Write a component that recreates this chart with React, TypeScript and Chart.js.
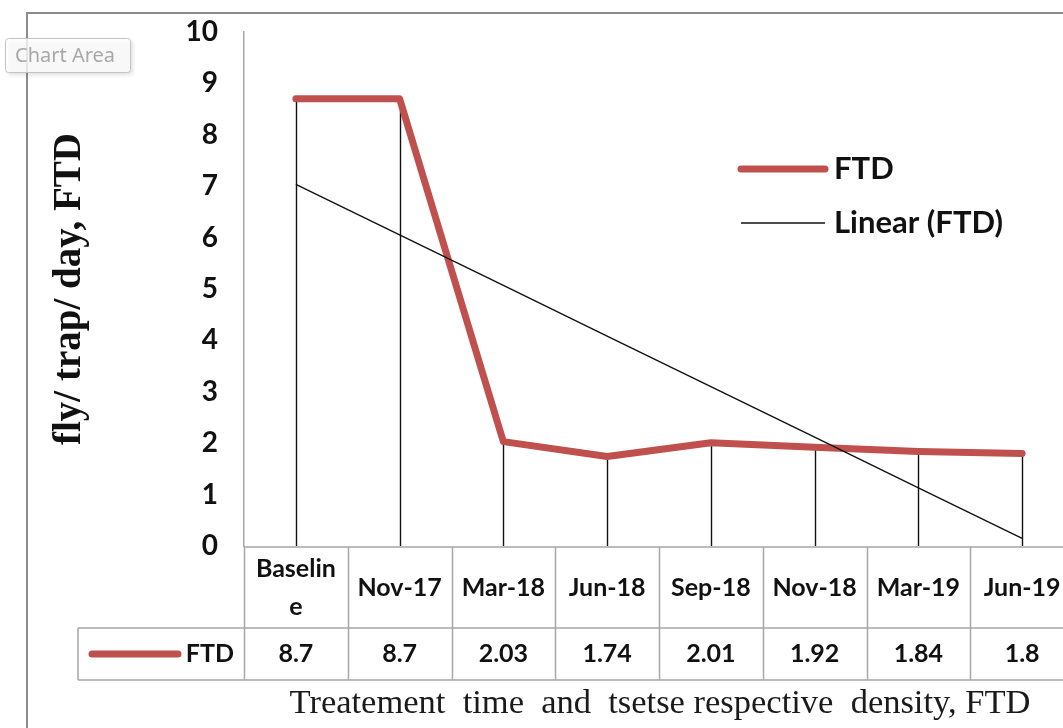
import React, { useEffect, useRef } from "react";
import { Chart, registerables } from "chart.js";

Chart.register(...registerables);

// ---- data ----
const categories: (string | string[])[] = [["Baselin", "e"], "Nov-17", "Mar-18", "Jun-18", "Sep-18", "Nov-18", "Mar-19", "Jun-19"];
const ftdValues = [8.7, 8.7, 2.03, 1.74, 2.01, 1.92, 1.84, 1.8];
const valueLabels = ["8.7", "8.7", "2.03", "1.74", "2.01", "1.92", "1.84", "1.8"];
const yMin = 0;
const yMax = 10;
const yStep = 1;
const seriesName = "FTD";
const trendName = "Linear (FTD)";
const yTitle = "fly/ trap/ day, FTD";
const xTitle = "Treatement  time  and  tsetse respective  density, FTD";

// Excel-style linear trendline (least squares on category index)
function linearTrend(vals: number[]): number[] {
  const n = vals.length;
  const xs = vals.map((_, i) => i + 1);
  const mx = xs.reduce((a, b) => a + b, 0) / n;
  const my = vals.reduce((a, b) => a + b, 0) / n;
  let sxy = 0, sxx = 0;
  for (let i = 0; i < n; i++) {
    sxy += (xs[i] - mx) * (vals[i] - my);
    sxx += (xs[i] - mx) * (xs[i] - mx);
  }
  const slope = sxy / sxx;
  return xs.map((x) => my + slope * (x - mx));
}
const trendValues = linearTrend(ftdValues);

const RED = "#C0504D";
const GRID = "#a6a6a6";
const SANS = "Lato, 'Noto Sans', sans-serif";
const SERIF = "'Liberation Serif', 'Times New Roman', serif";

const decorPlugin = {
  id: "decor",
  beforeDraw(chart: any) {
    const { ctx } = chart;
    ctx.save();
    ctx.fillStyle = "#ffffff";
    ctx.fillRect(0, 0, chart.width, chart.height);
    ctx.strokeStyle = "#8c8c8c";
    ctx.lineWidth = 2;
    ctx.beginPath();
    ctx.moveTo(27, chart.height);
    ctx.lineTo(27, 13);
    ctx.lineTo(chart.width, 13);
    ctx.stroke();
    ctx.restore();
  },
  beforeDatasetsDraw(chart: any) {
    const { ctx, chartArea } = chart;
    const meta = chart.getDatasetMeta(0);
    ctx.save();
    ctx.strokeStyle = "#111111";
    ctx.lineWidth = 1.4;
    meta.data.forEach((pt: any) => {
      ctx.beginPath();
      ctx.moveTo(Math.round(pt.x) + 0.5, pt.y);
      ctx.lineTo(Math.round(pt.x) + 0.5, chartArea.bottom);
      ctx.stroke();
    });
    ctx.restore();
  },
  afterDraw(chart: any) {
    const { ctx, chartArea } = chart;
    const xScale = chart.scales.x;
    const n = chart.data.labels.length;
    const colW = (chartArea.right - chartArea.left) / n;
    const top = chartArea.bottom + 1;
    const mid = 628;
    const bot = 680;
    const keyLeft = 78;
    ctx.save();
    ctx.strokeStyle = GRID;
    ctx.lineWidth = 1.5;
    ctx.beginPath();
    ctx.moveTo(chartArea.left, top);
    ctx.lineTo(chart.width, top);
    ctx.moveTo(keyLeft, mid);
    ctx.lineTo(chart.width, mid);
    ctx.moveTo(keyLeft, bot);
    ctx.lineTo(chart.width, bot);
    ctx.moveTo(keyLeft, mid);
    ctx.lineTo(keyLeft, bot);
    for (let i = 0; i <= n; i++) {
      const x = Math.round(xScale.getPixelForValue(i) - colW / 2) + 0.5;
      ctx.moveTo(x, top);
      ctx.lineTo(x, bot);
    }
    ctx.stroke();

    ctx.fillStyle = "#111111";
    ctx.textAlign = "center";
    ctx.textBaseline = "middle";
    ctx.font = `bold 25px ${SANS}`;
    chart.data.labels.forEach((lab: any, i: number) => {
      const cx = xScale.getPixelForValue(i);
      if (Array.isArray(lab)) {
        const lh = 38;
        const y0 = (top + mid) / 2 - ((lab.length - 1) * lh) / 2;
        lab.forEach((l: string, j: number) => ctx.fillText(l, cx, y0 + j * lh));
      } else {
        ctx.fillText(lab, cx, (top + mid) / 2);
      }
      ctx.fillText(valueLabels[i], cx, (mid + bot) / 2);
    });

    const ky = (mid + bot) / 2;
    ctx.strokeStyle = RED;
    ctx.lineWidth = 7;
    ctx.lineCap = "round";
    ctx.beginPath();
    ctx.moveTo(92, ky);
    ctx.lineTo(178, ky);
    ctx.stroke();
    ctx.textAlign = "right";
    ctx.fillText(chart.data.datasets[0].label, 234, ky);

    ctx.textAlign = "left";
    ctx.font = `bold 31px ${SANS}`;
    ctx.strokeStyle = RED;
    ctx.lineWidth = 7;
    ctx.beginPath();
    ctx.moveTo(741, 169);
    ctx.lineTo(825, 169);
    ctx.stroke();
    ctx.fillText(chart.data.datasets[0].label, 834, 169);
    ctx.strokeStyle = "#111111";
    ctx.lineWidth = 1.4;
    ctx.lineCap = "butt";
    ctx.beginPath();
    ctx.moveTo(741, 223);
    ctx.lineTo(825, 223);
    ctx.stroke();
    ctx.fillText(chart.data.datasets[1].label, 834, 223);

    ctx.textAlign = "center";
    ctx.font = `34.5px ${SERIF}`;
    ctx.fillStyle = "#1a1a1a";
    ctx.fillText(xTitle, 660, 704);

    ctx.shadowColor = "rgba(0,0,0,0.18)";
    ctx.shadowBlur = 4;
    ctx.shadowOffsetX = 2;
    ctx.shadowOffsetY = 2;
    ctx.fillStyle = "rgba(255,255,255,0.8)";
    ctx.beginPath();
    (ctx as any).roundRect(5.5, 38.5, 125, 34, 3);
    ctx.fill();
    ctx.shadowColor = "transparent";
    ctx.strokeStyle = "#c4c4c4";
    ctx.lineWidth = 1;
    ctx.stroke();
    ctx.fillStyle = "#a8a8a8";
    ctx.textAlign = "left";
    ctx.font = `20px 'Noto Sans', sans-serif`;
    ctx.fillText("Chart Area", 15, 56);
    ctx.restore();
  },
};

export default function App() {
  const ref = useRef<HTMLCanvasElement | null>(null);
  useEffect(() => {
    if (!ref.current) return;
    const chart = new Chart(ref.current, {
      type: "line",
      data: {
        labels: categories as any,
        datasets: [
          {
            label: seriesName,
            data: ftdValues,
            borderColor: RED,
            backgroundColor: RED,
            borderWidth: 7,
            borderCapStyle: "round",
            borderJoinStyle: "round",
            pointRadius: 0,
            tension: 0,
            order: 1,
          },
          {
            label: trendName,
            data: trendValues,
            borderColor: "#111111",
            borderWidth: 1.4,
            pointRadius: 0,
            tension: 0,
            order: 0,
          },
        ],
      },
      options: {
        responsive: false,
        animation: false,
        layout: { padding: { left: 0, right: 6, top: 32, bottom: 182 } },
        plugins: { legend: { display: false }, tooltip: { enabled: false }, title: { display: false } },
        scales: {
          x: {
            type: "category",
            display: false,
            offset: true,
          },
          y: {
            min: yMin,
            max: yMax,
            afterFit: (s: any) => {
              s.width = 244;
            },
            grid: { display: false, drawTicks: true, tickLength: 26 },
            border: { display: true, color: GRID, width: 1.5 },
            ticks: {
              stepSize: yStep,
              padding: 0,
              color: "#111111",
              font: { family: SANS, size: 28, weight: "bold" },
            },
            title: {
              display: true,
              text: yTitle,
              color: "#111111",
              font: { family: SERIF, size: 39, weight: "bold" },
              padding: { top: 47, bottom: 0 },
            },
          },
        },
      },
      plugins: [decorPlugin],
    });
    return () => chart.destroy();
  }, []);
  return (
    <div style={{ position: "fixed", left: 0, top: 0, width: 1063, height: 728, overflow: "hidden", background: "#fff" }}>
      <canvas ref={ref} width={1080} height={728} style={{ width: 1080, height: 728, display: "block" }} />
    </div>
  );
}
